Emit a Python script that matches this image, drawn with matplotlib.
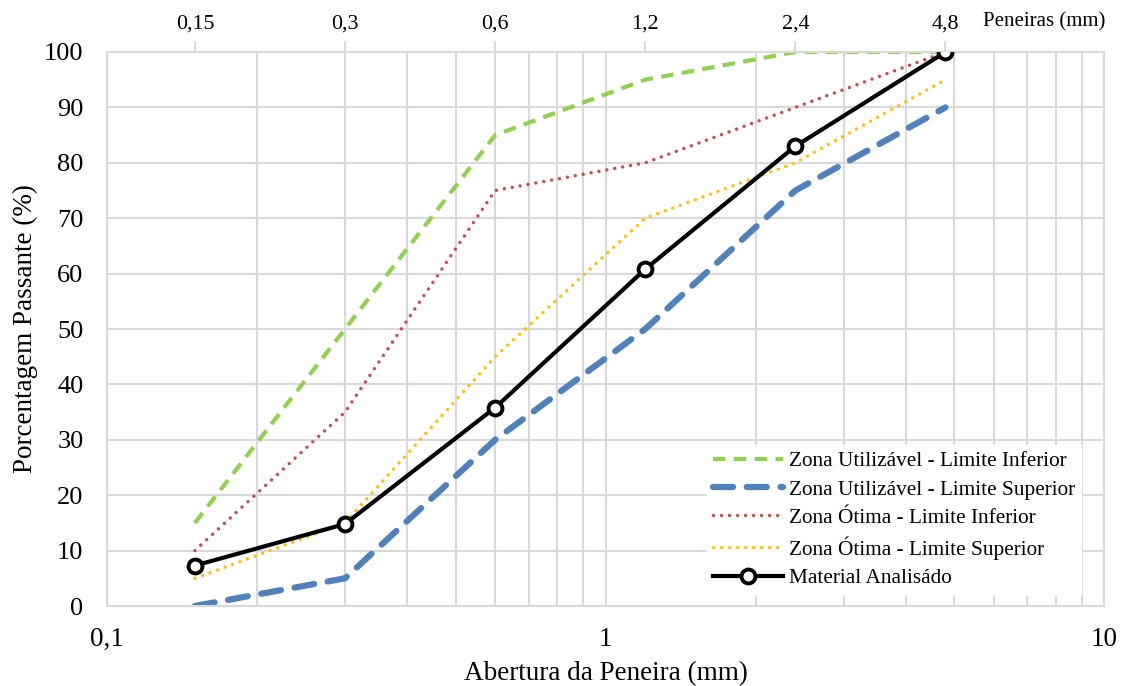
import numpy as np
import matplotlib.pyplot as plt
from matplotlib.ticker import FixedLocator, NullFormatter, NullLocator

# peneiras (mm)
peneiras = [0.15, 0.3, 0.6, 1.2, 2.4, 4.8]
peneiras_lbl = ["0,15", "0,3", "0,6", "1,2", "2,4", "4,8"]

# porcentagem passante (%)
util_inf = [15, 50, 85, 95, 100, 100]
util_sup = [0, 5, 30, 50, 75, 90]
otima_inf = [10, 35, 75, 80, 90, 100]
otima_sup = [5, 15, 45, 70, 80, 95]
material = [7.3, 14.8, 35.8, 60.8, 83.0, 100.0]

plt.rcParams["font.family"] = ["Liberation Serif", "DejaVu Serif"]
grid_c = "#d9d9d9"

fig = plt.figure(figsize=(11.27, 6.86), dpi=100)
ax = fig.add_axes([0.095, 0.1166, 0.885, 0.8076])

ax.plot(peneiras, util_inf, color="#92d050", lw=3, ls=(0, (3, 2)),
        label="Zona Utilizável - Limite Inferior")
ax.plot(peneiras, util_sup, color="#4f81bd", lw=4.5, ls=(0, (3.2, 2.2)),
        dash_capstyle="round", label="Zona Utilizável - Limite Superior")
ax.plot(peneiras, otima_inf, color="#c0504d", lw=2.5, ls=(0, (0.01, 2.3)),
        dash_capstyle="round", label="Zona Ótima - Limite Inferior")
ax.plot(peneiras, otima_sup, color="#ffc000", lw=2.5, ls=(0, (0.01, 2.3)),
        dash_capstyle="round", label="Zona Ótima - Limite Superior")
ax.plot(peneiras, material, color="black", lw=3, marker="o", ms=10,
        mfc="white", mec="black", mew=2.8, label="Material Analisádo", zorder=5)

ax.set_xscale("log")
ax.set_xlim(0.1, 10)
ax.set_ylim(0, 100)
ax.set_yticks(np.arange(0, 101, 10))
ax.xaxis.set_major_locator(FixedLocator([0.1, 1, 10]))
ax.set_xticklabels(["0,1", "1", "10"])
ax.xaxis.set_minor_locator(FixedLocator(
    [m * d for d in (0.1, 1) for m in range(2, 10)]))
ax.xaxis.set_minor_formatter(NullFormatter())
ax.grid(True, which="both", color=grid_c, lw=1.5)
ax.set_axisbelow(True)
ax.tick_params(axis="x", which="both", length=0, labelsize=19.5, pad=15)
ax.tick_params(axis="y", length=0, labelsize=19, pad=17)
for s in ax.spines.values():
    s.set_color(grid_c)
    s.set_linewidth(1.5)

ax.set_xlabel("Abertura da Peneira (mm)", fontsize=19.5, labelpad=7)
ax.set_ylabel("Porcentagem Passante (%)", fontsize=19.5, labelpad=4)

# eixo superior com as peneiras
top = ax.twiny()
top.set_xscale("log")
top.set_xlim(ax.get_xlim())
top.xaxis.set_major_locator(FixedLocator(peneiras))
top.xaxis.set_minor_locator(NullLocator())
top.set_xticklabels(peneiras_lbl)
top.tick_params(axis="x", length=8, width=1.5, color=grid_c, labelsize=15.8, pad=5)
for s in top.spines.values():
    s.set_visible(False)
fig.text(0.981, 0.968, "Peneiras (mm)", ha="right", va="center", fontsize=15)

leg = ax.legend(loc="lower right", bbox_to_anchor=(0.983, 0.009),
                fontsize=15.3, frameon=True, fancybox=False,
                edgecolor="white", framealpha=1, handlelength=3.3,
                borderaxespad=0.3, labelspacing=0.4, handletextpad=0.25,
                borderpad=0.3)
leg.set_zorder(10)

fig.savefig("out.png", dpi=100)
